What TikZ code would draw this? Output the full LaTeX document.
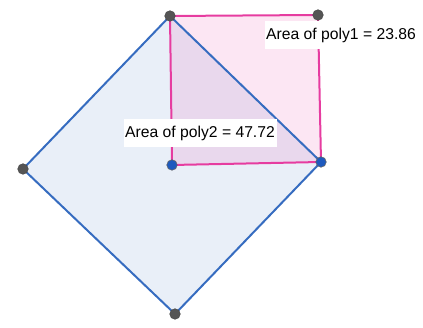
\documentclass[tikz,border=0pt]{standalone}
\usepackage{fontspec}
\setmainfont{Liberation Sans}
\definecolor{bluel}{RGB}{54,108,192}
\definecolor{pinkl}{RGB}{230,60,160}
\definecolor{ptgray}{RGB}{85,85,85}
\definecolor{ptblue}{RGB}{30,90,190}
\begin{document}
\begin{tikzpicture}[x=1pt,y=1pt,
  gpt/.style={circle,fill=ptgray,draw=black!70,line width=0.6pt,inner sep=0pt,minimum size=10.5pt},
  bpt/.style={circle,fill=ptblue,draw=black!60,line width=0.6pt,inner sep=0pt,minimum size=10.5pt},
  lbl/.style={fill=white,inner sep=0pt,minimum width=153pt,minimum height=28pt,font=\fontsize{15.7}{18}\selectfont},
  bedge/.style={draw=bluel,line width=2pt,line join=round},
  pedge/.style={draw=pinkl,line width=2pt,line join=round}]
\useasboundingbox (0,0) rectangle (423,328);
\coordinate (A) at (170,312);
\coordinate (B) at (318,313);
\coordinate (C) at (321,166);
\coordinate (D) at (172,163);
\coordinate (L) at (23,159);
\coordinate (E) at (175,14);
\fill[bluel,opacity=0.11] (A) -- (C) -- (E) -- (L) -- cycle;
\fill[pinkl,opacity=0.13] (A) -- (B) -- (C) -- (D) -- cycle;
\draw[bedge] (A) -- (C) -- (E) -- (L) -- cycle;
\draw[pedge] (A) -- (B) -- (C) -- (D) -- cycle;
\node[lbl] (l1) at (341,292.5) {Area of poly1 = 23.86};
\node[lbl] (l2) at (200,195) {Area of poly2 = 47.72};
\node[gpt] (pA) at (A) {};
\node[gpt] (pB) at (B) {};
\node[gpt] (pL) at (L) {};
\node[gpt] (pE) at (E) {};
\node[bpt] (pD) at (D) {};
\node[bpt] (pC) at (C) {};
\end{tikzpicture}
\end{document}
